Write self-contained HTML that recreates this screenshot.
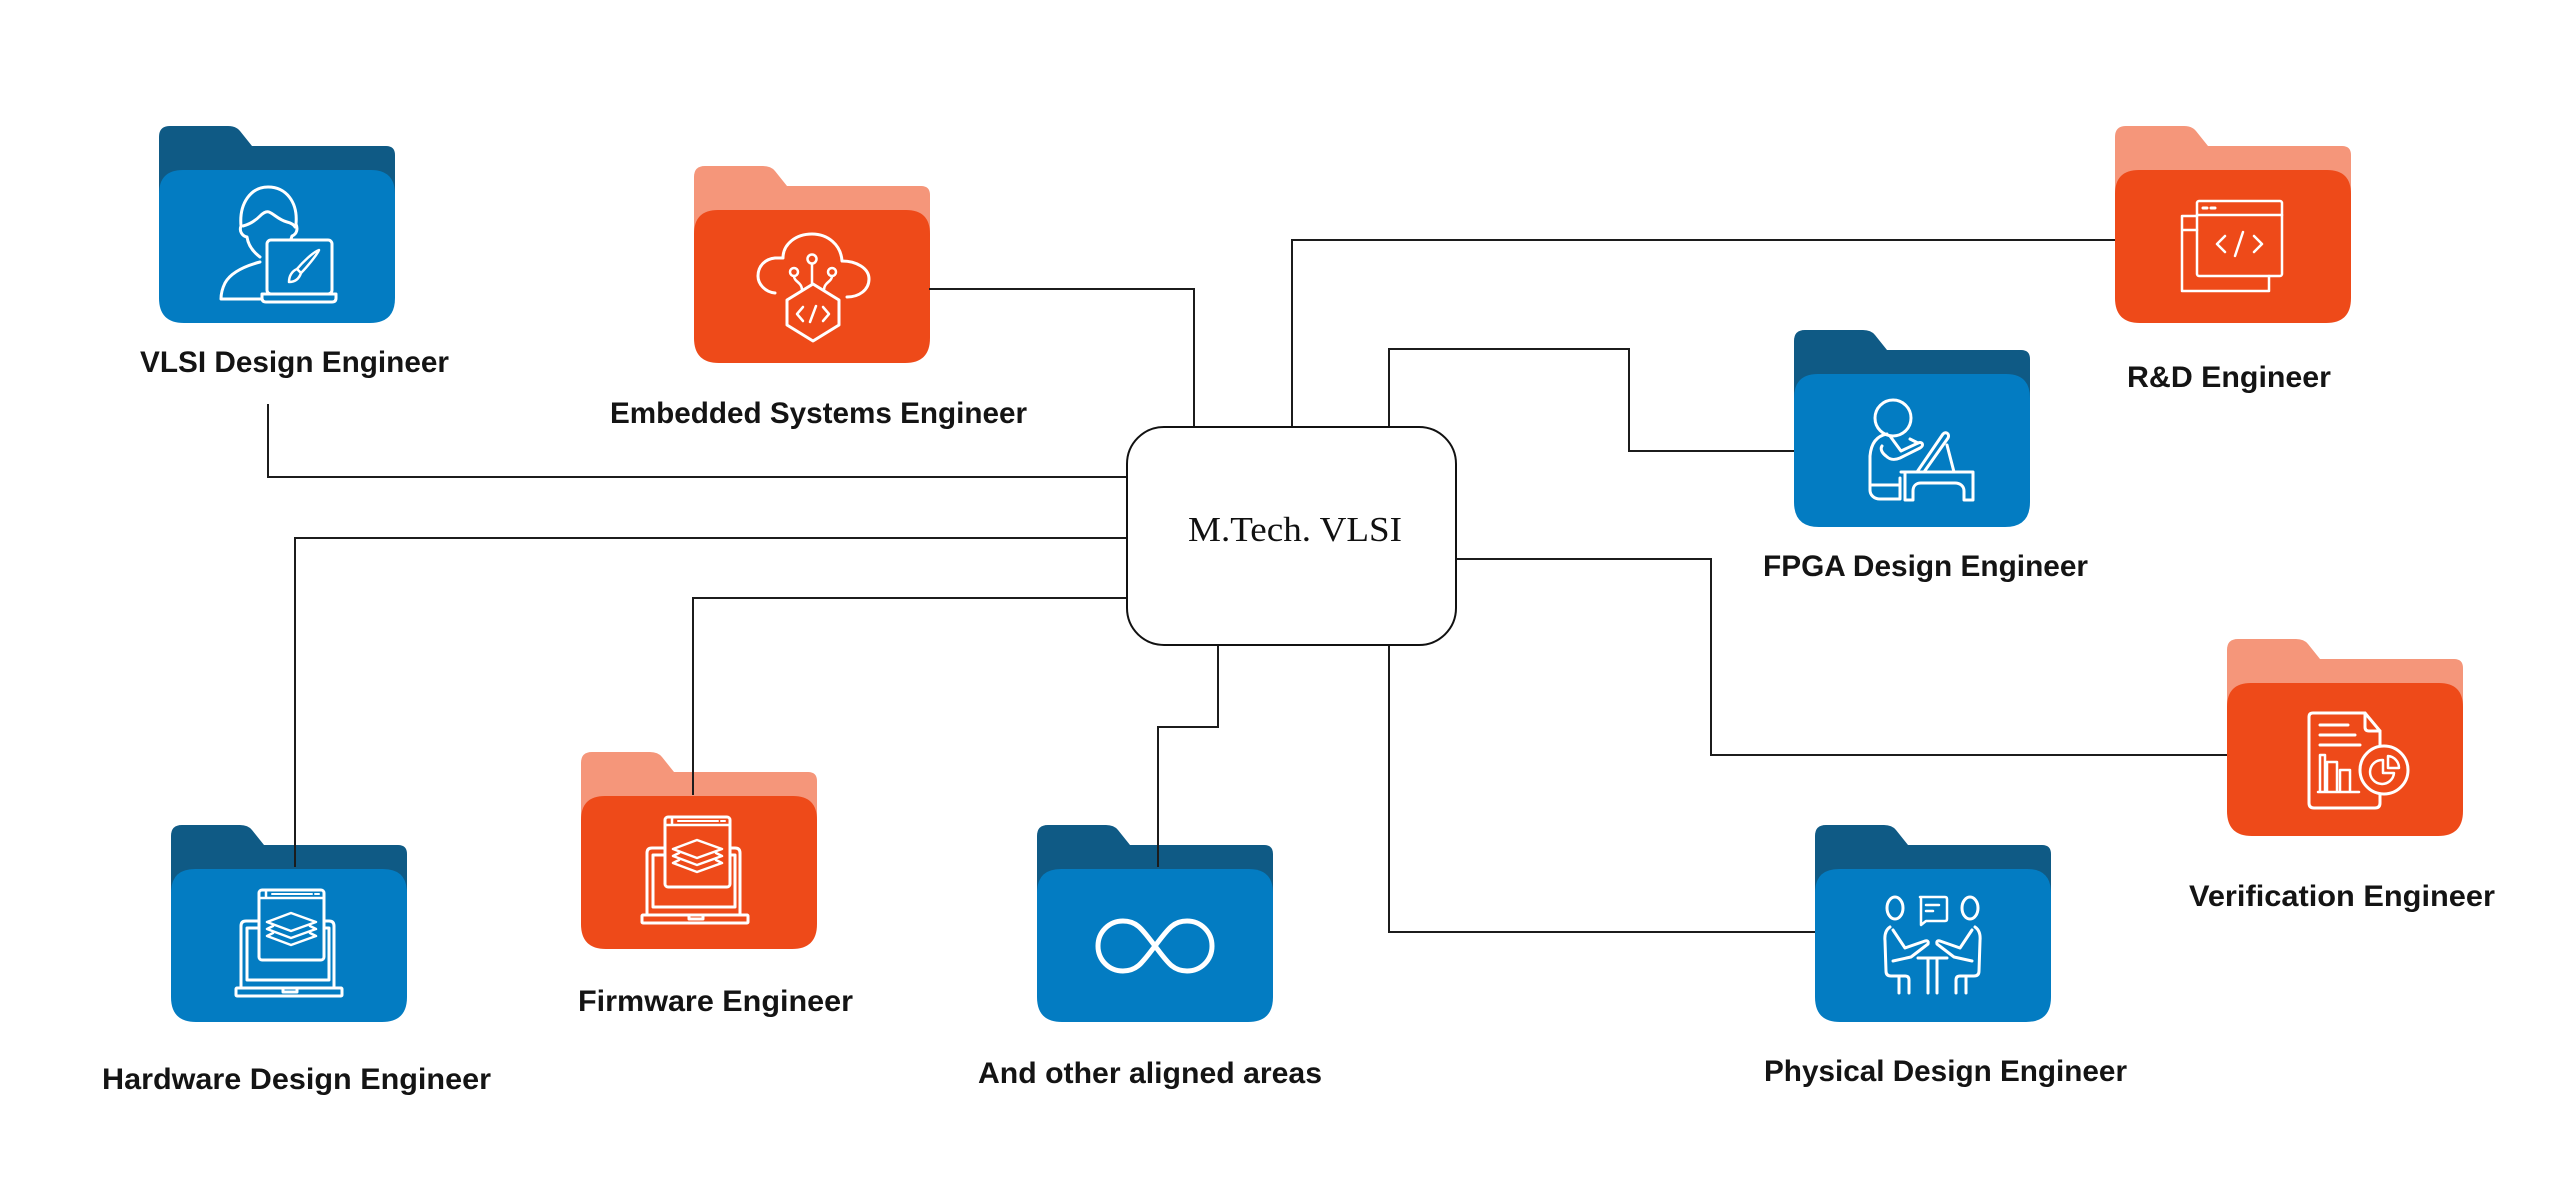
<!DOCTYPE html>
<html>
<head>
<meta charset="utf-8">
<style>
  html,body{margin:0;padding:0;background:#fff;}
  svg{display:block;}
  .lbl{font-family:"Liberation Sans",Arial,sans-serif;font-weight:bold;font-size:30px;fill:#141414;}
  .ic{fill:none;stroke:#fff;stroke-width:3;stroke-linecap:round;stroke-linejoin:round;}
  .ln{fill:none;stroke:#1c1c1c;stroke-width:2;}
</style>
</head>
<body>
<svg width="2560" height="1203" viewBox="0 0 2560 1203" xmlns="http://www.w3.org/2000/svg">
  <defs>
    <g id="bf">
      <path d="M0,11 Q0,0 11,0 L69,0 Q77,0 81,5 L93,20 L227,20 Q236,20 236,29 L236,120 L0,120 Z" fill="#0F5A85"/>
      <path d="M0,68 Q0,44 24,44 L212,44 Q236,44 236,68 L236,172 Q236,197 211,197 L25,197 Q0,197 0,172 Z" fill="#037CC2"/>
    </g>
    <g id="of">
      <path d="M0,11 Q0,0 11,0 L69,0 Q77,0 81,5 L93,20 L227,20 Q236,20 236,29 L236,120 L0,120 Z" fill="#F5967A"/>
      <path d="M0,68 Q0,44 24,44 L212,44 Q236,44 236,68 L236,172 Q236,197 211,197 L25,197 Q0,197 0,172 Z" fill="#EE4A19"/>
    </g>
    <g id="laptopLayers">
      <path class="ic" d="M66,163 V101 Q66,96 71,96 H84 M149,96 H154 Q159,96 159,101 V163"/>
      <path class="ic" d="M84,103 H72 V155 H154 V103 H149"/>
      <rect class="ic" x="61" y="163" width="106" height="8" rx="1"/>
      <path class="ic" d="M108,163 V167 H122 V163"/>
      <rect class="ic" x="84" y="65" width="65" height="70" rx="3"/>
      <path class="ic" d="M84,73 H149 M91,65 V73" style="stroke-width:2.5"/>
      <path class="ic" d="M97,69 H137 M140,69 H144" style="stroke-width:2"/>
      <path class="ic" d="M116,88 L141,97 L116,106 L92,97 Z" style="stroke-width:2.5"/>
      <path class="ic" d="M98,101 L92,104 L116,113 L141,104 L135,101" style="stroke-width:2.5"/>
      <path class="ic" d="M98,108 L92,111 L116,120 L141,111 L135,108" style="stroke-width:2.5"/>
    </g>
  </defs>

  <rect x="0" y="0" width="2560" height="1203" fill="#fff"/>

  <!-- VLSI Design Engineer -->
  <g transform="translate(159,126)">
    <use href="#bf"/>
    <path class="ic" d="M101,131 C93,125 89,118 88,111 C83,110 80,105 82,100 C80,77 92,61 109,61 C127,61 139,76 137,98 C139,103 138,108 133,110 L132,113"/>
    <path class="ic" d="M84,100 C92,98 98,93 101,90 C104,87 107,85 110,86 C115,88 120,94 128,96 C132,97 135,99 136,101"/>
    <path class="ic" d="M101,136 C86,140 72,146 66,157 C63,163 62,168 62,173 L103,173"/>
    <rect class="ic" x="108" y="114" width="65" height="54" rx="4"/>
    <path class="ic" d="M103,168 L177,168 L177,172 Q177,176 173,176 L107,176 Q103,176 103,172 Z"/>
    <path class="ic" d="M160,124 C158,129 147,142 142,147 L138,143 C143,137 154,126 160,124 Z" style="stroke-width:2.5"/>
    <path class="ic" d="M138,143 C133,145 130,150 130,156 C136,156 140,153 142,147" style="stroke-width:2.5"/>
  </g>

  <!-- Embedded Systems Engineer -->
  <g transform="translate(694,166)">
    <use href="#of"/>
    <path class="ic" d="M81,127 C71,126 64,118 64,110 C64,100 71,93 81,92 L89,92 C89,78 102,68 118,68 C134,68 147,79 148,95 C162,95 175,102 175,113 C175,124 165,131 153,131"/>
    <path class="ic" d="M119,118 L145,134 L145,159 L119,175 L93,159 L93,134 Z"/>
    <path class="ic" d="M109,141 L103,148 L109,155 M116,156 L122,140 M129,141 L135,148 L129,155" style="stroke-width:2.5"/>
    <circle class="ic" cx="118" cy="93" r="4.5" style="stroke-width:2.5"/>
    <circle class="ic" cx="100" cy="106" r="4" style="stroke-width:2.5"/>
    <circle class="ic" cx="138" cy="106" r="4" style="stroke-width:2.5"/>
    <path class="ic" d="M118,98 V118 M100,110 C100,116 108,116 108,124 M138,110 C138,116 130,116 130,124" style="stroke-width:2.5"/>
  </g>

  <!-- R&D Engineer -->
  <g transform="translate(2115,126)">
    <use href="#of"/>
    <path class="ic" d="M82,90 H67 V165 H154 V150 M67,104 H82" style="stroke-width:2.5"/>
    <rect class="ic" x="82" y="75" width="85" height="75" rx="2" style="stroke-width:2.5"/>
    <path class="ic" d="M82,89 H167" style="stroke-width:2.5"/>
    <path class="ic" d="M88,82 H92 M96,82 H100" style="stroke-width:3"/>
    <path class="ic" d="M110,110 L102,118 L110,126 M120,130 L128,106 M139,110 L147,118 L139,126" style="stroke-width:2.5"/>
  </g>

  <!-- FPGA Design Engineer -->
  <g transform="translate(1794,330)">
    <use href="#bf"/>
    <circle class="ic" cx="99" cy="88" r="18"/>
    <path class="ic" d="M93,104 C82,106 77,114 76,126 L76,160 C76,165 80,169 86,169 L106,169 L106,148"/>
    <path class="ic" d="M76,155 H106"/>
    <path class="ic" d="M96,106 L107,121 L124,113 C129,111 130,116 126,118 L106,128 C99,131 95,129 92,126 C88,123 86,119 88,116"/>
    <path class="ic" d="M116,109 L124,113"/>
    <path class="ic" d="M149,104 C152,101 156,104 154,108 L130,142 L123,142 Z"/>
    <path class="ic" d="M153,115 L160,142"/>
    <path class="ic" d="M107,142 H179 V170 H170 V161 C170,156 166,153 161,153 H127 C122,153 119,156 119,161 V170 H111 V142"/>
  </g>

  <!-- Verification Engineer -->
  <g transform="translate(2227,639)">
    <use href="#of"/>
    <path class="ic" d="M86,74 H138 L153,92 V164 Q153,169 148,169 H87 Q82,169 82,164 V78 Q82,74 86,74 Z"/>
    <path class="ic" d="M138,74 V88 Q138,92 142,92 H153"/>
    <path class="ic" d="M93,86 H121 M93,96 H128 M93,106 H133"/>
    <path class="ic" d="M93,153 V116 H98 V153 M100,153 V123 H110 V153 M113,153 V131 H123 V153 M91,153 H132" style="stroke-width:2.5"/>
    <circle cx="157" cy="131" r="24" fill="#EE4A19" stroke="#fff" stroke-width="3"/>
    <path class="ic" d="M156,121 A12,12 0 1 0 167,134 L156,134 Z" style="stroke-width:2.5"/>
    <path class="ic" d="M161,117 L161,129 L172,129 A12,12 0 0 0 161,117 Z" style="stroke-width:2.5"/>
  </g>

  <!-- Physical Design Engineer -->
  <g transform="translate(1815,825)">
    <use href="#bf"/>
    <ellipse class="ic" cx="80" cy="83" rx="8" ry="11"/>
    <ellipse class="ic" cx="155" cy="83" rx="8" ry="11"/>
    <path class="ic" d="M105,72 H130 Q132,72 132,74 V94 Q132,96 130,96 H111 L106,100 V74 Q106,72 105,72 Z" style="stroke-width:2.5"/>
    <path class="ic" d="M111,80 H124 M111,86 H118" style="stroke-width:2.5"/>
    <path class="ic" d="M75,102 Q69,106 70,116 L71,146 Q71,151 76,151 L90,151 Q94,151 94,155 L94,168"/>
    <path class="ic" d="M84,151 V168"/>
    <path class="ic" d="M78,105 L90,123 L110,116 Q114,115 113,119 L96,132 L78,136"/>
    <path class="ic" d="M160,102 Q166,106 165,116 L164,146 Q164,151 159,151 L145,151 Q141,151 141,155 L141,168"/>
    <path class="ic" d="M151,151 V168"/>
    <path class="ic" d="M157,105 L145,123 L125,116 Q121,115 122,119 L139,132 L157,136"/>
    <path class="ic" d="M103,133 H132 M113,133 V168 M122,133 V168"/>
  </g>

  <!-- Hardware Design Engineer -->
  <g transform="translate(171,825)">
    <use href="#bf"/>
    <g transform="translate(4,0)"><use href="#laptopLayers"/></g>
  </g>

  <!-- Firmware Engineer -->
  <g transform="translate(581,752)">
    <use href="#of"/>
    <use href="#laptopLayers"/>
  </g>

  <!-- And other aligned areas -->
  <g transform="translate(1037,825)">
    <use href="#bf"/>
    <path d="M118,121 C105,104 100,96 86,96 C72,96 61,107 61,121 C61,135 72,146 86,146 C100,146 105,138 118,121 C131,104 136,96 150,96 C164,96 175,107 175,121 C175,135 164,146 150,146 C136,146 131,138 118,121 Z" fill="none" stroke="#fff" stroke-width="5" stroke-linejoin="round"/>
  </g>

  <!-- Connectors -->
  <path class="ln" d="M268,404 V477 H1127"/>
  <path class="ln" d="M295,867 V538 H1127"/>
  <path class="ln" d="M693,795 V598 H1127"/>
  <path class="ln" d="M929,289 H1194 V427"/>
  <path class="ln" d="M1292,427 V240 H2115"/>
  <path class="ln" d="M1389,427 V349 H1629 V451 H1794"/>
  <path class="ln" d="M1456,559 H1711 V755 H2227"/>
  <path class="ln" d="M1389,645 V932 H1815"/>
  <path class="ln" d="M1218,645 V727 H1158 V867"/>

  <!-- Central node -->
  <rect x="1127" y="427" width="329" height="218" rx="37" ry="37" fill="#fff" stroke="#111" stroke-width="2"/>
  <text x="1188" y="541" font-family="Liberation Serif, serif" font-size="35" fill="#111" textLength="214" lengthAdjust="spacingAndGlyphs">M.Tech. VLSI</text>

  <!-- Labels -->
  <text class="lbl" x="140" y="372" textLength="309" lengthAdjust="spacingAndGlyphs">VLSI Design Engineer</text>
  <text class="lbl" x="610" y="423" textLength="417" lengthAdjust="spacingAndGlyphs">Embedded Systems Engineer</text>
  <text class="lbl" x="2127" y="387" textLength="204" lengthAdjust="spacingAndGlyphs">R&amp;D Engineer</text>
  <text class="lbl" x="1763" y="576" textLength="325" lengthAdjust="spacingAndGlyphs">FPGA Design Engineer</text>
  <text class="lbl" x="2189" y="906" textLength="306" lengthAdjust="spacingAndGlyphs">Verification Engineer</text>
  <text class="lbl" x="578" y="1011" textLength="275" lengthAdjust="spacingAndGlyphs">Firmware Engineer</text>
  <text class="lbl" x="102" y="1089" textLength="389" lengthAdjust="spacingAndGlyphs">Hardware Design Engineer</text>
  <text class="lbl" x="978" y="1083" textLength="344" lengthAdjust="spacingAndGlyphs">And other aligned areas</text>
  <text class="lbl" x="1764" y="1081" textLength="363" lengthAdjust="spacingAndGlyphs">Physical Design Engineer</text>
</svg>
</body>
</html>
